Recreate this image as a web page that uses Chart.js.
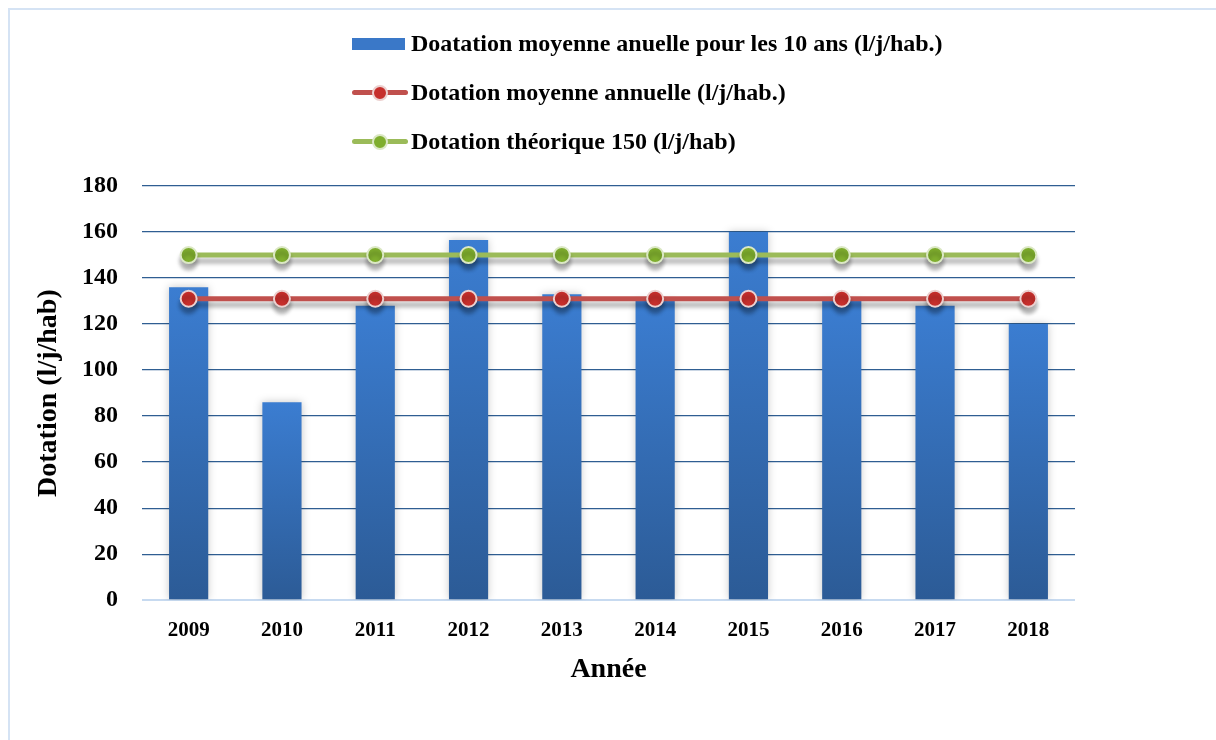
<!DOCTYPE html>
<html>
<head>
<meta charset="utf-8">
<script src="https://cdn.jsdelivr.net/npm/chart.js@4/dist/chart.umd.min.js"></script>
<style>
  html, body { margin: 0; padding: 0; background: #fff; }
  #wrap { position: relative; width: 1216px; height: 740px; overflow: hidden; }
  #frame { position: absolute; left: 8px; top: 8px; width: 1300px; height: 800px;
           border-top: 2px solid #d5e3f4; border-left: 2px solid #d5e3f4; }
  #chart { position: absolute; left: 0; top: 0; }
  #legend { position: absolute; left: 352px; top: 19px; font-family: "Liberation Serif", serif;
            font-weight: bold; font-size: 24px; color: #000; }
  .item { display: flex; align-items: center; height: 49px; }
  .mark { position: relative; width: 56px; height: 14px; margin-right: 3px; }
  .mark .box { position: absolute; left: 0; top: 1px; width: 53px; height: 12px; background: #3a78c8; }
  .mark .ln { position: absolute; left: 0; top: 4px; width: 56px; height: 5px; border-radius: 3px; }
  .mark .dot { position: absolute; left: 20px; top: -1px; width: 12px; height: 12px; border-radius: 50%; border: 2px solid; }
</style>
</head>
<body>
<div id="wrap">
  <div id="frame"></div>
  <canvas id="chart" width="1216" height="740"></canvas>
  <div id="legend"></div>
</div>
<script>
const years = ["2009", "2010", "2011", "2012", "2013", "2014", "2015", "2016", "2017", "2018"];
const dotationBars = [136, 86, 128, 156.5, 133, 130, 160, 130, 128, 120];
const dotationMoyenne = [131, 131, 131, 131, 131, 131, 131, 131, 131, 131];
const dotationTheorique = [150, 150, 150, 150, 150, 150, 150, 150, 150, 150];
const yTicks = [0, 20, 40, 60, 80, 100, 120, 140, 160, 180];

const seriesNames = [
    "Doatation moyenne anuelle pour les 10 ans (l/j/hab.)",
    "Dotation moyenne annuelle (l/j/hab.)",
    "Dotation théorique 150 (l/j/hab)"
];

const FONT = "'Liberation Serif', 'Times New Roman', serif";

// shadows under the bars and lines, like the office chart style
const shadowPlugin = {
    id: "shadow",
    beforeDatasetDraw(chart, args) {
        const ctx = chart.ctx;
        ctx.save();
        if (chart.data.datasets[args.index].type === "line") {
            ctx.shadowColor = "rgba(0,0,0,0.3)";
            ctx.shadowBlur = 4;
            ctx.shadowOffsetY = 6;
        } else {
            ctx.shadowColor = "rgba(0,0,0,0.22)";
            ctx.shadowBlur = 8;
        }
    },
    afterDatasetDraw(chart) {
        chart.ctx.restore();
    }
};

function barGradient(context) {
    const chart = context.chart;
    const area = chart.chartArea;
    if (!area) return "#3a78c8";
    const top = chart.scales.y.getPixelForValue(context.raw);
    const g = chart.ctx.createLinearGradient(0, top, 0, area.bottom);
    g.addColorStop(0, "#3b7dd1");
    g.addColorStop(1, "#2c5b96");
    return g;
}

new Chart(document.getElementById("chart").getContext("2d"), {
    data: {
        labels: years,
        datasets: [
            {
                type: "line",
                label: seriesNames[2],
                data: dotationTheorique,
                borderColor: "#9bbb59",
                borderWidth: 5,
                pointRadius: 8,
                pointBorderWidth: 2,
                pointBackgroundColor: "#7fae2e",
                pointBorderColor: "#dbe8c4",
                order: 1
            },
            {
                type: "line",
                label: seriesNames[1],
                data: dotationMoyenne,
                borderColor: "#c0504d",
                borderWidth: 5,
                pointRadius: 8,
                pointBorderWidth: 2,
                pointBackgroundColor: "#c62f2c",
                pointBorderColor: "#ecd0cf",
                order: 2
            },
            {
                type: "bar",
                label: seriesNames[0],
                data: dotationBars,
                backgroundColor: barGradient,
                barPercentage: 0.42,
                categoryPercentage: 1,
                order: 3
            }
        ]
    },
    plugins: [shadowPlugin],
    options: {
        responsive: false,
        animation: false,
        layout: { padding: { top: 186, left: 32, right: 141, bottom: 49 } },
        plugins: {
            legend: { display: false },
            tooltip: { enabled: false }
        },
        scales: {
            x: {
                grid: { display: false },
                border: { display: false },
                ticks: { color: "#000", padding: 10, font: { family: FONT, size: 21, weight: "bold" } },
                title: {
                    display: true, text: "Année", color: "#000", padding: { top: 0 },
                    font: { family: FONT, size: 28, weight: "bold" }
                }
            },
            y: {
                min: 0,
                max: 180,
                afterBuildTicks(axis) {
                    axis.ticks = yTicks.map(v => ({ value: v }));
                },
                afterFit(axis) {
                    axis.width = 110;
                },
                grid: {
                    drawTicks: false,
                    color: c => c.tick && c.tick.value === 0 ? "#c7daf0" : "#2f5e92",
                    lineWidth: c => c.tick && c.tick.value === 0 ? 2 : 1.3
                },
                border: { display: false },
                ticks: { color: "#000", padding: 24, font: { family: FONT, size: 24, weight: "bold" } },
                title: {
                    display: true, text: "Dotation (l/j/hab)", color: "#000", padding: 0,
                    font: { family: FONT, size: 28, weight: "bold" }
                }
            }
        }
    }
});

// legend, one entry per row, left aligned
const legendColors = [
    { kind: "bar" },
    { kind: "line", line: "#c0504d", dot: "#c62f2c", ring: "#ecd0cf" },
    { kind: "line", line: "#9bbb59", dot: "#7fae2e", ring: "#dbe8c4" }
];
const legendEl = document.getElementById("legend");
seriesNames.forEach((name, i) => {
    const c = legendColors[i];
    const row = document.createElement("div");
    row.className = "item";
    const mark = c.kind === "bar"
        ? '<span class="mark"><span class="box"></span></span>'
        : '<span class="mark"><span class="ln" style="background:' + c.line + '"></span>' +
          '<span class="dot" style="background:' + c.dot + ';border-color:' + c.ring + '"></span></span>';
    row.innerHTML = mark + "<span>" + name + "</span>";
    legendEl.appendChild(row);
});
</script>
</body>
</html>
